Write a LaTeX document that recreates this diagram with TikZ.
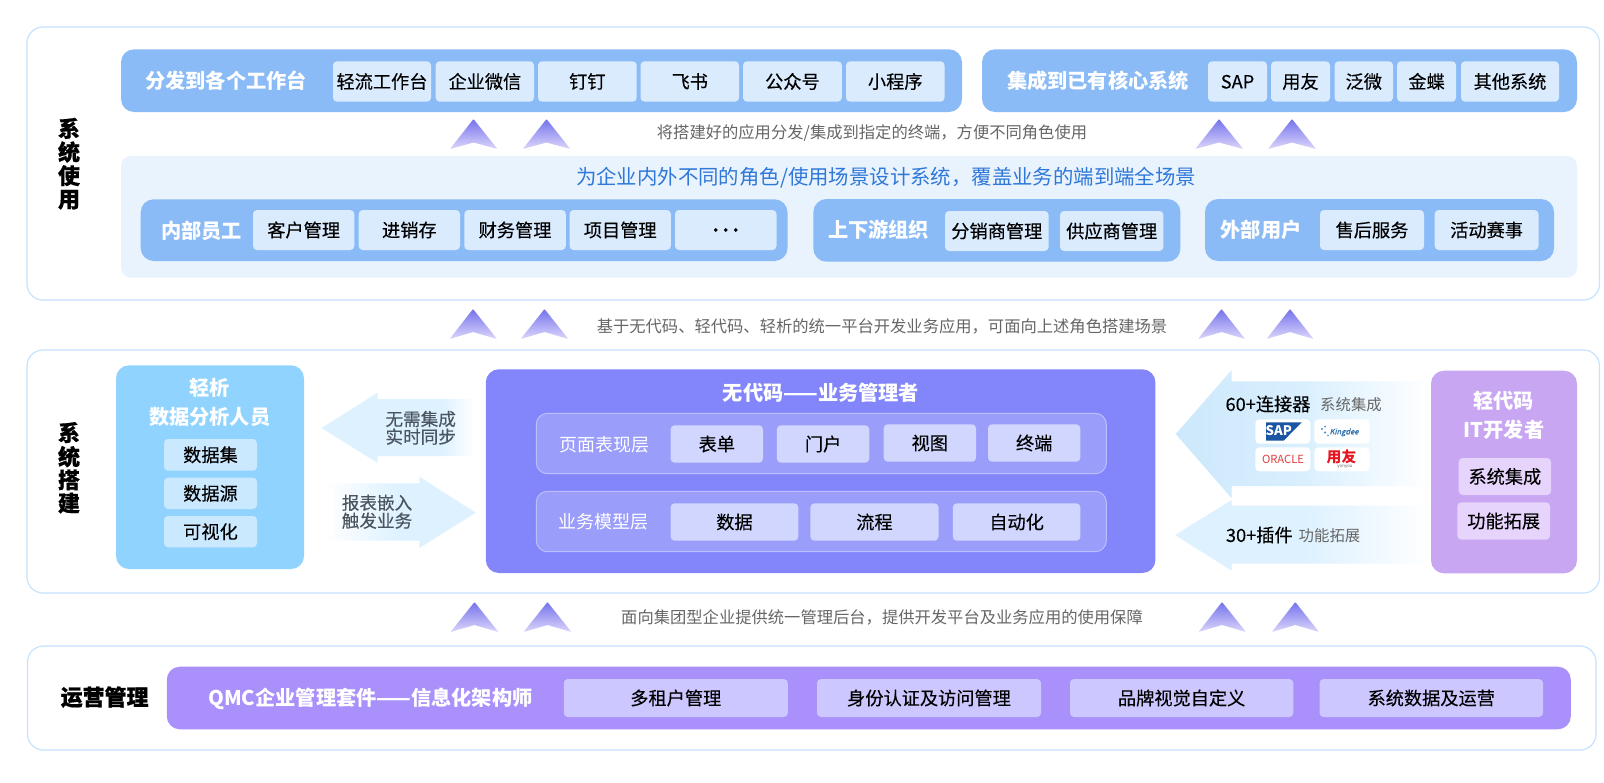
\documentclass[tikz,border=0pt]{standalone}
\usepackage{fontspec}
\usepackage{xcolor}
\setmainfont{Noto Sans CJK SC}
\newfontfamily\medf[FakeBold=0.22]{Noto Sans CJK SC}
\newfontfamily\hvyf[BoldFeatures={FakeBold=0.6}]{Noto Sans CJK SC}
\newfontfamily\slantf[FakeSlant=0.25,FakeBold=0.5]{Noto Sans CJK SC}
\definecolor{edgeblue}{HTML}{C6E3FF}
\definecolor{barblue}{HTML}{8ABBF7}
\definecolor{itemblue}{HTML}{DAEBFE}
\definecolor{paleblue}{HTML}{E9F3FE}
\definecolor{headblue}{HTML}{2F78D8}
\definecolor{skyblue}{HTML}{90D3FF}
\definecolor{itemsky}{HTML}{CAE9FF}
\definecolor{indigo}{HTML}{8385FB}
\definecolor{layerfill}{HTML}{9B9DFA}
\definecolor{layeredge}{HTML}{BCBEFD}
\definecolor{itemindigo}{HTML}{D0D6FE}
\definecolor{lilac}{HTML}{C8A6F2}
\definecolor{itemlilac}{HTML}{E6D4FC}
\definecolor{violet}{HTML}{AA90FB}
\definecolor{itemviolet}{HTML}{CCC7FE}
\definecolor{arrowlight}{HTML}{DDF1FF}
\definecolor{arrowdeep}{HTML}{CDE8FC}
\definecolor{arrowmid}{HTML}{D9EFFE}
\definecolor{hintgrey}{HTML}{666666}
\definecolor{darktext}{HTML}{4A5560}
\definecolor{chevtop}{HTML}{7472EC}
\definecolor{chevbot}{HTML}{DCD6FB}
\definecolor{sapblue}{HTML}{1A56A3}
\definecolor{kingblue}{HTML}{2A6EAA}
\definecolor{kingdot}{HTML}{3C8CD2}
\definecolor{oraclered}{HTML}{E23E3E}
\definecolor{yonyoured}{HTML}{E6141E}
\pgfdeclarehorizontalshading{fadeRightLate}{100bp}{color(0bp)=(arrowlight);color(64bp)=(arrowlight);color(75bp)=(white);color(100bp)=(white)}
\pgfdeclarehorizontalshading{fadeLeft}{100bp}{color(0bp)=(white);color(25bp)=(white);color(50bp)=(arrowlight);color(100bp)=(arrowlight)}
\pgfdeclarehorizontalshading{fadeBig}{100bp}{color(0bp)=(arrowdeep);color(25bp)=(arrowdeep);color(50bp)=(arrowmid);color(75bp)=(white);color(100bp)=(white)}
\pgfdeclarehorizontalshading{fadeSmall}{100bp}{color(0bp)=(arrowlight);color(50bp)=(arrowlight);color(75bp)=(white);color(100bp)=(white)}
\tikzset{
  fs/.style={font=\fontsize{#1}{#1}\selectfont, text height={0.88*#1}, text depth={0.12*#1}},
  boxbase/.style={rectangle, inner sep=0pt, outer sep=0pt},
  panel/.style={boxbase, draw=edgeblue, line width=0.6pt, fill=white, rounded corners=8pt},
  bar/.style={boxbase, fill=barblue, rounded corners=6.5pt},
  pale/.style={boxbase, fill=paleblue, rounded corners=5pt},
  itm/.style={boxbase, fill=itemblue, rounded corners=2pt, text=black, fs=9.1pt, font=\fontsize{9.1pt}{9.1pt}\selectfont\medf},
  skyp/.style={boxbase, fill=skyblue, rounded corners=6.5pt},
  skyi/.style={itm, fill=itemsky},
  indp/.style={boxbase, fill=indigo, rounded corners=6.5pt},
  lay/.style={boxbase, fill=layerfill, draw=layeredge, line width=0.5pt, rounded corners=5.5pt},
  indi/.style={itm, fill=itemindigo},
  lilp/.style={boxbase, fill=lilac, rounded corners=6.5pt},
  lili/.style={itm, fill=itemlilac},
  vioP/.style={boxbase, fill=violet, rounded corners=6.5pt},
  vioi/.style={itm, fill=itemviolet},
  tile/.style={boxbase, fill=white, rounded corners=2pt},
  ttl/.style={inner sep=0pt, text=white, fs=10.1pt, font=\fontsize{10.1pt}{10.1pt}\selectfont\bfseries},
  side/.style={inner sep=0pt, text=black, fs=11pt, font=\fontsize{11pt}{11pt}\selectfont\hvyf\bfseries},
  hint/.style={inner sep=0pt, text=hintgrey, fs=8.15pt},
  sub/.style={inner sep=0pt, text=hintgrey, fs=7.7pt},
  dark/.style={inner sep=0pt, text=darktext, fs=8.8pt, font=\fontsize{8.8pt}{8.8pt}\selectfont\medf},
  blk/.style={inner sep=0pt, text=black, fs=9.1pt, font=\fontsize{9.1pt}{9.1pt}\selectfont\medf},
  laylbl/.style={inner sep=0pt, text=white, fs=9pt},
}
\newcommand{\ib}[7]{\node[#1, minimum width={(#5-#3)*0.5pt}, minimum height={(#6-#4)*0.5pt}] (#2) at ({(#3+#5)/2},{(#4+#6)/2}) {#7};}
% chevron: left x, apex x, right x, top y, notch y, bottom y
\newcommand{\chev}[6]{\shade[top color=chevtop, bottom color=chevbot, rounded corners=0.4pt] (#2,#4) -- (#3,#6) -- (#2,#5) -- (#1,#6) -- cycle;}
\begin{document}
\begin{tikzpicture}[x=0.5pt,y=-0.5pt]
\useasboundingbox (0,0) rectangle (1604,782);
\fill[white] (0,0) rectangle (1604,782);
% outer panels
\ib{panel}{pA}{27}{27}{1599.5}{300}{}
\ib{panel}{pB}{27}{350}{1599.5}{593}{}
\ib{panel}{pC}{27.5}{646}{1596}{750}{}
% side labels
\node[side] (sa1) at (69,128.5) {系};
\node[side] (sa2) at (69,152) {统};
\node[side] (sa3) at (69,175.7) {使};
\node[side] (sa4) at (69,199) {用};
\node[side] (sb1) at (69,432.7) {系};
\node[side] (sb2) at (69,456.7) {统};
\node[side] (sb3) at (69,480) {搭};
\node[side] (sb4) at (69,503) {建};
\node[side] (sc) at (104.6,697) {运营管理};
% top bars
\ib{bar}{barA}{121}{49.3}{962}{112}{}
\node[ttl] (tA) at (226,80.7) {分发到各个工作台};
\ib{itm}{a1}{333}{61.3}{431}{101.7}{轻流工作台}
\ib{itm}{a2}{435.7}{61.3}{534}{101.7}{企业微信}
\ib{itm}{a3}{538}{61.3}{636.7}{101.7}{钉钉}
\ib{itm}{a4}{640.5}{61.3}{739}{101.7}{飞书}
\ib{itm}{a5}{743}{61.3}{841.8}{101.7}{公众号}
\ib{itm}{a6}{846}{61.3}{944.5}{101.7}{小程序}
\ib{bar}{barB}{982}{49.3}{1577}{112}{}
\node[ttl] (tB) at (1098,80.7) {集成到已有核心系统};
\ib{itm}{b1}{1208}{61.3}{1267}{101.7}{SAP}
\ib{itm}{b2}{1271}{61.3}{1330}{101.7}{用友}
\ib{itm}{b3}{1334.5}{61.3}{1393}{101.7}{泛微}
\ib{itm}{b4}{1397}{61.3}{1456}{101.7}{金蝶}
\ib{itm}{b5}{1461}{61.3}{1559}{101.7}{其他系统}
% row 1 chevrons & hint
\chev{450}{473.5}{497.4}{119}{142.5}{149}
\chev{522.8}{546.5}{570.3}{119}{142.5}{149}
\chev{1195.3}{1219}{1243.2}{119}{142.5}{149}
\chev{1268}{1292}{1316}{119}{142.5}{149}
\node[hint] (h1) at (872,132) {将搭建好的应用分发/集成到指定的终端，方便不同角色使用};
% pale block
\ib{pale}{pale1}{121}{156}{1577}{277.7}{}
\node[inner sep=0pt, text=headblue, fs=10.2pt] (head) at (886,177) {为企业内外不同的角色/使用场景设计系统，覆盖业务的端到端全场景};
\ib{bar}{barC}{140.7}{199.3}{787.5}{261}{}
\node[ttl] (tC) at (201.7,230.7) {内部员工};
\ib{itm}{c1}{253}{210}{354.3}{250}{客户管理}
\ib{itm}{c2}{358.7}{210}{460}{250}{进销存}
\ib{itm}{c3}{464.3}{210}{565.8}{250}{财务管理}
\ib{itm}{c4}{569.6}{210}{670.8}{250}{项目管理}
\ib{itm}{c5}{675}{210}{776.5}{250}{·\kern-4.1pt·\kern-4.1pt·}
\ib{bar}{barD}{813.4}{199}{1180.4}{261.7}{}
\node[ttl] (tD) at (878.6,230) {上下游组织};
\ib{itm}{d1}{945}{211}{1048.6}{251}{分销商管理}
\ib{itm}{d2}{1060}{211}{1163.4}{251}{供应商管理}
\ib{bar}{barE}{1205}{199}{1554}{261}{}
\node[ttl] (tE) at (1261,230) {外部用户};
\ib{itm}{e1}{1320}{210}{1424}{250}{售后服务}
\ib{itm}{e2}{1434.7}{210}{1538.5}{250}{活动赛事}
% row 2 chevrons & hint
\chev{449.7}{473}{497}{309}{332}{339}
\chev{520.7}{544.5}{568.3}{309}{332}{339}
\chev{1198}{1221.5}{1245}{309}{332}{339}
\chev{1266.5}{1290}{1313.5}{309}{332}{339}
\node[hint] (h2) at (882,326) {基于无代码、轻代码、轻析的统一平台开发业务应用，可面向上述角色搭建场景};
% sky panel
\ib{skyp}{sky}{116}{365.3}{304}{569}{}
\node[ttl] (tS1) at (209.7,387.7) {轻析};
\node[ttl] (tS2) at (209.7,416.7) {数据分析人员};
\ib{skyi}{s1}{164}{439}{257}{470.7}{数据集}
\ib{skyi}{s2}{164}{477.7}{257}{509}{数据源}
\ib{skyi}{s3}{164}{516}{257}{547.3}{可视化}
% left-pointing & right-pointing small arrows
\shade[shading=fadeRightLate] (321.7,428) -- (377.7,392.7) -- (377.7,399) -- (475,399) -- (475,456) -- (377.7,456) -- (377.7,463) -- cycle;
\node[dark] (l1) at (420.7,419) {无需集成};
\node[dark] (l2) at (420.7,436.7) {实时同步};
\shade[shading=fadeLeft] (325,483.3) -- (419.3,483.3) -- (419.3,476.7) -- (475.7,512.7) -- (419.3,548) -- (419.3,540.7) -- (325,540.7) -- cycle;
\node[dark] (r1) at (377,502.7) {报表嵌入};
\node[dark] (r2) at (377,520.7) {触发业务};
% indigo panel
\ib{indp}{ind}{485.8}{369.3}{1155.4}{573}{}
\node[ttl] (tI) at (821,392.7) {无代码——业务管理者};
\ib{lay}{lay1}{536.3}{413.3}{1106.3}{473.7}{}
\node[laylbl] (ll1) at (604.3,444.3) {页面表现层};
\ib{indi}{i1}{670.6}{425.3}{763}{462.7}{表单}
\ib{indi}{i2}{776.9}{425.3}{869.3}{462.7}{门户}
\ib{indi}{i3}{883.6}{424.3}{976}{461.7}{视图}
\ib{indi}{i4}{988}{424.3}{1080.4}{461.7}{终端}
\ib{lay}{lay2}{536.3}{491.3}{1106.3}{551.7}{}
\node[laylbl] (ll2) at (603.2,521.7) {业务模型层};
\ib{indi}{j1}{670.6}{503.3}{798.3}{540.7}{数据}
\ib{indi}{j2}{810.4}{503.3}{938.5}{540.7}{流程}
\ib{indi}{j3}{952.8}{503.3}{1080.4}{540.7}{自动化}
% right side arrows
\shade[shading=fadeBig] (1175.7,434) -- (1231.7,370) -- (1231.7,381.3) -- (1431,381.3) -- (1431,486) -- (1231.7,486) -- (1231.7,498.3) -- cycle;
\shade[shading=fadeSmall] (1175,535) -- (1231.7,500) -- (1231.7,505.7) -- (1431,505.7) -- (1431,563.7) -- (1231.7,563.7) -- (1231.7,570.7) -- cycle;
\node[blk] (n60) at (1268,404) {60+连接器};
\node[sub] (n60s) at (1351,404.7) {系统集成};
\node[blk] (n30) at (1259.3,535) {30+插件};
\node[sub] (n30s) at (1329.5,535.7) {功能拓展};
% logo tiles
\ib{tile}{lg1}{1255.3}{419.3}{1310.3}{443.7}{}
\ib{tile}{lg2}{1314.3}{419.3}{1369.7}{443.7}{}
\ib{tile}{lg3}{1255.3}{447.3}{1310.3}{471.3}{}
\ib{tile}{lg4}{1314.3}{447.3}{1369.7}{471.3}{}
\fill[sapblue] (1266,422.3) -- (1301.7,422.3) -- (1283.6,440.7) -- (1266,440.7) -- cycle;
\node[inner sep=0pt, text=white, fs=6.6pt, font=\fontsize{6.6pt}{6.6pt}\selectfont\bfseries] (sapl) at (1278.7,430.5) {SAP};
\node[inner sep=0pt, text=kingblue, fs=3.8pt, font=\fontsize{3.8pt}{3.8pt}\selectfont\slantf] (king) at (1344,431.5) {Kingdee};
\fill[kingdot] (1322,429) circle (1.2) (1325,426.5) circle (1) (1325,432.5) circle (1.2) (1328,435.5) circle (0.8);
\node[inner sep=0pt, text=oraclered, fs=5.6pt, font=\fontsize{5.6pt}{5.6pt}\selectfont] (orc) at (1283,459.5) {ORACLE\vphantom{g}};
\node[inner sep=0pt, text=yonyoured, fs=7.4pt, font=\fontsize{7.4pt}{7.4pt}\selectfont\bfseries] (yy) at (1341.5,456.5) {用友};
\node[inner sep=0pt, text=hintgrey, fs=2.2pt, font=\fontsize{2.2pt}{2.2pt}\selectfont] (yy2) at (1345,466) {yonyou};
% lilac panel
\ib{lilp}{lil}{1431}{370.7}{1577}{573.3}{}
\node[ttl] (tL1) at (1503.8,400.7) {轻代码};
\node[ttl] (tL2) at (1504,430) {IT开发者};
\ib{lili}{m1}{1458.7}{458}{1551}{495}{系统集成}
\ib{lili}{m2}{1457.3}{502.3}{1550}{539.7}{功能拓展}
% row 3 chevrons & hint
\chev{450.5}{474.5}{498.5}{602}{625}{632}
\chev{523.5}{547.5}{571.4}{602}{625}{632}
\chev{1198.5}{1222}{1246}{602}{625}{632}
\chev{1271.8}{1295.3}{1319}{602}{625}{632}
\node[hint] (h3) at (882,617.3) {面向集团型企业提供统一管理后台，提供开发平台及业务应用的使用保障};
% QMC bar
\ib{vioP}{vio}{166.8}{666.7}{1570.8}{729.3}{}
\node[ttl] (tQ) at (370.4,698.3) {QMC企业管理套件——信息化架构师};
\ib{vioi}{q1}{563.8}{679}{787.8}{717}{多租户管理}
\ib{vioi}{q2}{817}{679}{1041}{717}{身份认证及访问管理}
\ib{vioi}{q3}{1070}{679}{1293.3}{717}{品牌视觉自定义}
\ib{vioi}{q4}{1319.5}{679}{1543}{717}{系统数据及运营}
\end{tikzpicture}
\end{document}
